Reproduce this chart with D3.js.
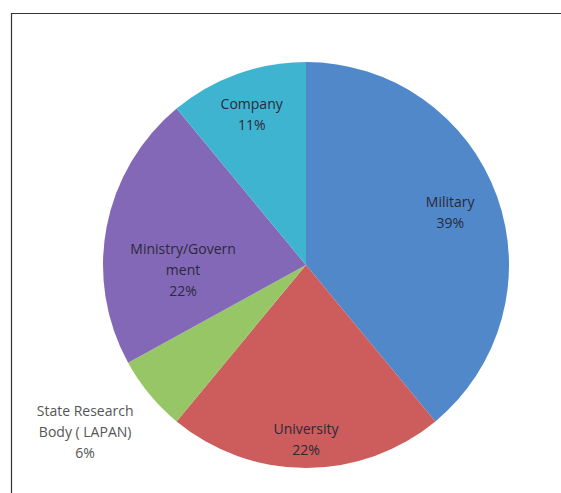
<!DOCTYPE html>
<html><head><meta charset="utf-8">
<script src="https://cdn.jsdelivr.net/npm/d3@7"></script>
<style>body{margin:0;background:#fff;}svg{display:block;}</style>
</head><body>
<svg id="c" width="561" height="493"></svg>
<script>
const categories = ["Military", "University", "State Research Body ( LAPAN)", "Ministry/Government", "Company"];
const values = [39, 22, 6, 22, 11];
const colors = ["#5088C9", "#CD5C5C", "#96C665", "#8468B8", "#3FB4D0"];
const labelLines = [["Military","39%"],["University","22%"],["State Research","Body ( LAPAN)","6%"],["Ministry/Govern","ment","22%"],["Company","11%"]];

const svg = d3.select("#c");
svg.append("path").attr("d","M11.5,493 L11.5,13.5 L561,13.5").attr("fill","none").attr("stroke","#333").attr("stroke-width",1.2);

const cx = 306, cy = 265, r = 203;
const pie = d3.pie().sort(null).value(d => d)(values);
const arc = d3.arc().innerRadius(0).outerRadius(r);
const g = svg.append("g").attr("transform", `translate(${cx},${cy})`);
g.selectAll("path").data(pie).enter().append("path")
  .attr("d", arc).attr("fill", (d,i) => colors[i]);

const labelRadius = [0.755, 0.862, 1.364, 0.606, 0.79];
const labelShift = [0, 0, 2.5, -13, 0];
pie.forEach((d,i) => {
  const a = (d.startAngle + d.endAngle)/2 + labelShift[i]*Math.PI/180;
  const lr = r * labelRadius[i];
  const x = cx + lr*Math.sin(a), y = cy - lr*Math.cos(a);
  const lines = labelLines[i];
  const t = svg.append("text").attr("text-anchor","middle")
    .attr("font-family","'Open Sans', sans-serif")
    .attr("font-size", 14)
    .attr("fill", i===2 ? "#555" : "#2a2a3a");
  const lh = 21;
  const y0 = y - (lines.length-1)*lh/2;
  lines.forEach((s,k) => t.append("tspan").attr("x", x).attr("y", y0 + k*lh).attr("dy","0.35em").text(s));
});
</script>
</body></html>
